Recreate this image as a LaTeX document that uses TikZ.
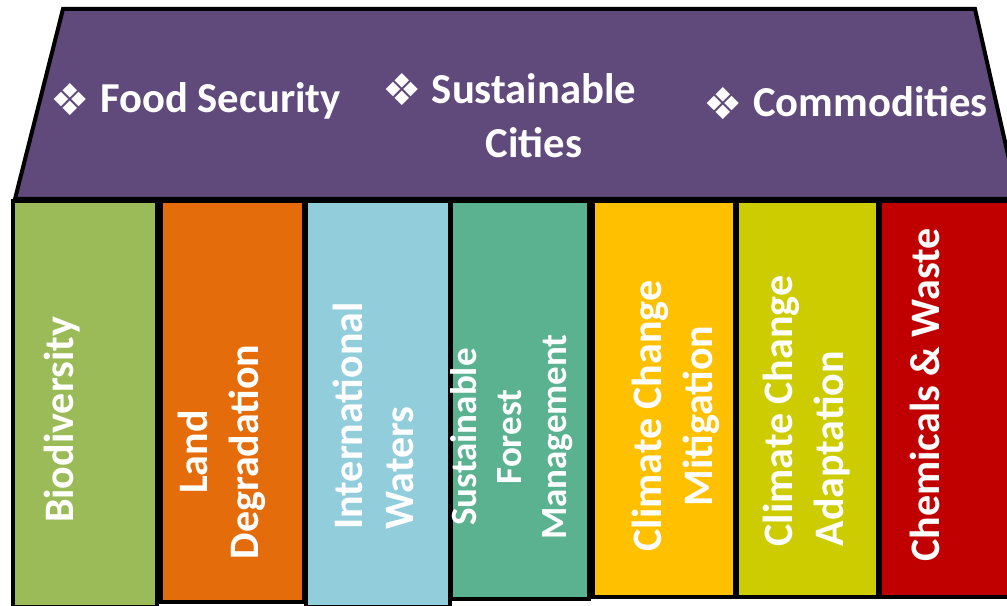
\documentclass[tikz,border=0pt]{standalone}
\usepackage{xcolor}
\usepackage{tikz}
\usepackage{fontspec}
\setmainfont{Carlito}
\newfontfamily\dingfont{DejaVu Sans}
\usetikzlibrary{positioning}

\begin{document}
\begin{tikzpicture}[x=0.75pt,y=0.75pt,yscale=-1,xscale=1,
        pillar/.style={draw=black, line width=3pt},
        hdr/.style={text=white, inner sep=0pt, font=\fontsize{32}{40.5}\selectfont\bfseries},
        bul/.style={text=white, inner sep=0pt, font=\fontsize{33}{35}\selectfont\dingfont},
        lbl/.style={text=white, inner sep=0pt, rotate=90, font=\fontsize{31.5}{38.25}\selectfont\bfseries}]
        \useasboundingbox (0,0) rectangle (1007,606);
        \clip (0,0) rectangle (1007,606);

        %Shape: Trapezoid (roof)
        \draw [pillar][fill={rgb, 255:red, 96; green, 74; blue, 123 }] (63,9) -- (975,9) -- (1018,199) -- (15,199) -- cycle ;
        %Shape: Rectangle (Biodiversity)
        \draw [pillar][fill={rgb, 255:red, 155; green, 187; blue, 89 }] (13.3,201) rectangle (156.5,607) ;
        %Shape: Rectangle (Land Degradation)
        \draw [pillar][fill={rgb, 255:red, 228; green, 108; blue, 10 }] (160.5,201) rectangle (303.7,602) ;
        %Shape: Rectangle (International Waters)
        \draw [pillar][fill={rgb, 255:red, 146; green, 205; blue, 220 }] (306.3,201) rectangle (449.8,607) ;
        %Shape: Rectangle (Sustainable Forest Management)
        \draw [pillar][fill={rgb, 255:red, 91; green, 178; blue, 145 }] (450.7,201) rectangle (589.3,598.7) ;
        %Shape: Rectangle (Climate Change Mitigation)
        \draw [pillar][fill={rgb, 255:red, 255; green, 192; blue, 0 }] (593,201) rectangle (735.3,597) ;
        %Shape: Rectangle (Climate Change Adaptation)
        \draw [pillar][fill={rgb, 255:red, 204; green, 204; blue, 0 }] (737,201) rectangle (878,597) ;
        %Shape: Rectangle (Chemicals & Waste)
        \draw [pillar][fill={rgb, 255:red, 192; green, 0; blue, 0 }] (879.7,201) rectangle (1030,597) ;

        %Text: roof items
        \node [hdr, anchor=base west] (food) at (100,113) {Food Security};
        \node [hdr, align=center, anchor=north] (cities) at (534,73) {Sustainable\\Cities};
        \node [hdr, anchor=base west] (commod) at (753,117) {Commodities};
        \node [bul, left=7pt of food.north west, anchor=north east] (foodbul) {❖};
        \node [bul, left=7pt of cities.north west, anchor=north east] (citiesbul) {❖};
        \node [bul, left=7pt of commod.north west, anchor=north east] (commodbul) {❖};

        %Text: pillars
        \node [lbl] (bio) at (62,420) {Biodiversity};
        \node [lbl, align=center] (land) at (222,452) {Land\\Degradation};
        \node [lbl, align=left] (waters) at (373,416) {International\\Waters};
        \node [lbl, align=center, font=\fontsize{27.75}{33.75}\selectfont\bfseries] (forest) at (512,437) {Sustainable\\Forest\\Management};
        \node [lbl, align=center] (mitig) at (676,416) {Climate Change\\Mitigation};
        \node [lbl, align=left] (adapt) at (807,411) {Climate Change\\Adaptation};
        \node [lbl] (chem) at (925,395) {Chemicals \& Waste};
\end{tikzpicture}
\end{document}
